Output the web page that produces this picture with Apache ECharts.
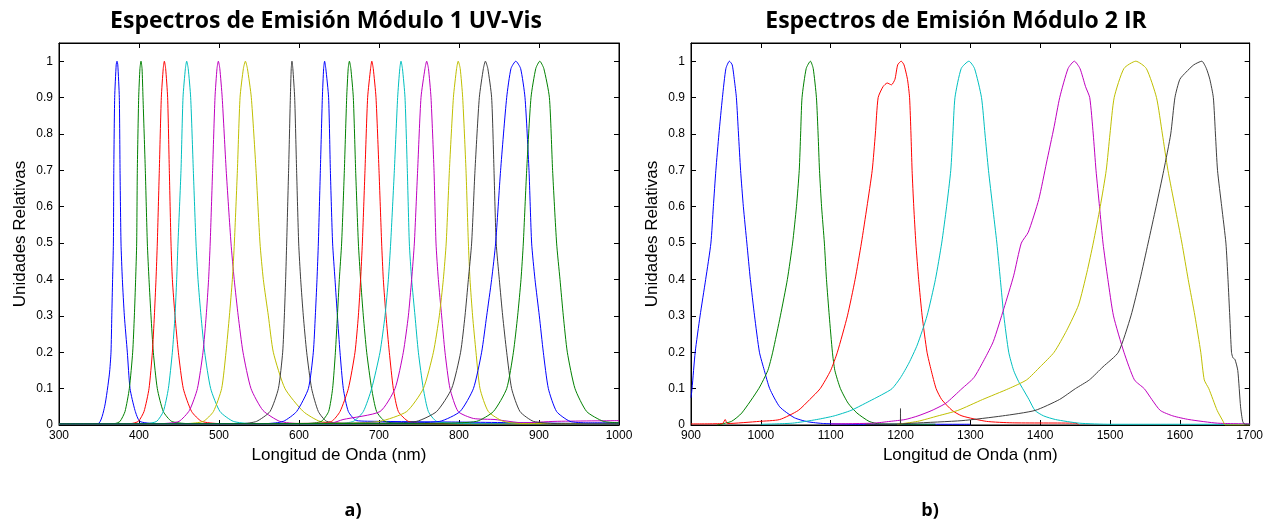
<!DOCTYPE html>
<html>
<head>
<meta charset="utf-8">
<script src="https://cdn.jsdelivr.net/npm/echarts@6/dist/echarts.min.js"></script>
<style>html,body{margin:0;padding:0;background:#fff;}#c{width:1266px;height:531px;}</style>
</head>
<body>
<div id="c"></div>
<script>
// ---------- DATA ----------
var titleLeft = 'Espectros de Emisión Módulo 1 UV-Vis';
var titleRight = 'Espectros de Emisión Módulo 2 IR';
var xNameText = 'Longitud de Onda (nm)';
var yNameText = 'Unidades Relativas';
var panelLabels = ['a)', 'b)'];
var colorCycle = ['#0000FF', '#008000', '#FF0000', '#00BFBF', '#BF00BF', '#BFBF00', '#3F3F3F'];

// Módulo 1 UV-Vis spectra: [wavelength nm, relative units]
var uv1 = [[300,0.002],[349,0.004],[357,0.05],[363,0.14],[365,0.2],[366,0.3],[367,0.4],[368,0.5],[368.5,0.7],[369.6,0.9],[371.5,0.99],[372.5,1],[373.5,0.99],[375.4,0.9],[376.3,0.7],[377.5,0.5],[379.2,0.4],[381.7,0.3],[385.4,0.2],[388.8,0.1],[395,0.04],[401,0.01],[420,0.004],[1000,0.002]];
var uv2 = [[300,0.002],[370,0.004],[376.3,0.01],[382.5,0.037],[387.9,0.1],[392.1,0.2],[394.2,0.3],[395.8,0.4],[397.1,0.5],[397.9,0.7],[399.6,0.9],[401.2,0.98],[402.5,1],[403.8,0.98],[405,0.9],[407.9,0.7],[410.4,0.5],[412.5,0.4],[415,0.3],[417.9,0.2],[422.9,0.1],[430.4,0.037],[440.8,0.01],[460,0.004],[1000,0.003]];
var uv3 = [[300,0.003],[390,0.004],[399.2,0.01],[406.25,0.037],[412.5,0.1],[416.7,0.2],[419.2,0.3],[421.25,0.4],[422.9,0.5],[425.4,0.7],[427.9,0.9],[430.3,0.98],[431.7,1],[433.3,0.98],[435.8,0.9],[437.9,0.7],[440,0.5],[441.7,0.4],[445,0.3],[449.2,0.2],[455.4,0.1],[465.8,0.037],[478.3,0.01],[500,0.004],[1000,0.003]];
var uv4 = [[300,0.003],[410,0.004],[422.1,0.01],[430.4,0.037],[436.7,0.1],[441.7,0.2],[445,0.3],[447.1,0.4],[448.75,0.5],[452.5,0.7],[455,0.9],[458,0.98],[459.6,1],[461.5,0.98],[464.6,0.9],[467.9,0.7],[471.25,0.5],[473.75,0.4],[477.5,0.3],[482.1,0.2],[489.6,0.1],[501.25,0.037],[517.9,0.01],[540,0.004],[1000,0.003]];
var uv5 = [[300,0.003],[430,0.004],[450,0.01],[463,0.04],[473,0.1],[480,0.2],[484,0.3],[487,0.4],[489,0.5],[492,0.7],[495,0.9],[497.5,0.98],[499.2,1],[501,0.98],[504,0.9],[509,0.7],[515,0.5],[519,0.4],[524,0.3],[530,0.2],[540,0.1],[555,0.04],[576,0.01],[600,0.004],[1000,0.004]];
var uv6 = [[300,0.003],[460,0.004],[480.4,0.01],[493,0.037],[503.3,0.1],[508.75,0.2],[513,0.3],[516.7,0.4],[519.2,0.5],[523,0.7],[526.3,0.9],[530.5,0.98],[533,1],[535.5,0.98],[540.4,0.9],[546.3,0.7],[551.25,0.5],[555.4,0.4],[561.7,0.3],[567.9,0.2],[582.5,0.1],[605.4,0.037],[626.25,0.01],[660,0.004],[1000,0.003]];
var uv7 = [[300,0.003],[530,0.004],[547,0.01],[563.75,0.037],[574.2,0.1],[579.6,0.2],[581.7,0.3],[583.3,0.4],[584.6,0.5],[587,0.7],[589.2,0.9],[590.3,0.98],[591.2,1],[592.3,0.98],[594.6,0.9],[597,0.7],[599.6,0.5],[602.1,0.4],[605.4,0.3],[609.6,0.2],[615.8,0.1],[624.2,0.037],[634.6,0.01],[660,0.004],[1000,0.003]];
var uv8 = [[300,0.003],[560,0.004],[580.4,0.01],[597,0.037],[611.7,0.1],[617.9,0.2],[620.4,0.3],[622.5,0.4],[624.2,0.5],[626.7,0.7],[629.2,0.9],[630.8,0.98],[632,1],[633.5,0.98],[637,0.9],[639.2,0.7],[642,0.5],[645,0.4],[648,0.3],[651.25,0.2],[655.4,0.1],[661.7,0.037],[672,0.012],[700,0.01],[800,0.008],[1000,0.003]];
var uv9 = [[300,0.003],[610,0.004],[628,0.01],[637,0.037],[642,0.1],[645.5,0.2],[648,0.3],[650.4,0.4],[653.3,0.5],[656.7,0.7],[659.6,0.9],[661.5,0.98],[663,1],[664.8,0.98],[667.9,0.9],[670.8,0.7],[674.2,0.5],[677,0.4],[680.4,0.3],[684.6,0.2],[690.8,0.1],[697,0.037],[707.5,0.01],[730,0.004],[1000,0.003]];
var uv10 = [[300,0.003],[620,0.004],[640.8,0.01],[651.25,0.037],[661.7,0.1],[670,0.2],[674.2,0.3],[677,0.4],[679.2,0.5],[682.5,0.7],[685.8,0.9],[689.5,0.98],[691,1],[692.8,0.98],[696.25,0.9],[700,0.7],[703.3,0.5],[705.4,0.4],[708.75,0.3],[712.9,0.2],[717.9,0.1],[724.2,0.037],[736.7,0.01],[760,0.004],[1000,0.003]];
var uv11 = [[300,0.003],[650,0.004],[668,0.01],[680.4,0.037],[690.8,0.1],[701.25,0.2],[707.5,0.3],[711.7,0.4],[714.6,0.5],[719.2,0.7],[723.3,0.9],[726,0.98],[727.5,1],[729.3,0.98],[732.5,0.9],[735.4,0.7],[737.9,0.5],[740.8,0.4],[745,0.3],[749.2,0.2],[755.4,0.1],[761.7,0.037],[772,0.01],[800,0.004],[1000,0.003]];
var uv12 = [[300,0.003],[640,0.005],[655,0.015],[701.25,0.037],[720,0.1],[730.4,0.2],[736.7,0.3],[740.8,0.4],[744.2,0.5],[748.3,0.7],[752.5,0.9],[757.5,0.98],[759.6,1],[761.8,0.98],[765,0.9],[768.75,0.7],[771.25,0.5],[774.2,0.4],[778.3,0.3],[782.5,0.2],[788.75,0.1],[799,0.037],[818,0.018],[845,0.015],[880,0.006],[920,0.01],[1000,0.012]];
var uv13 = [[300,0.003],[650,0.005],[701,0.01],[734.6,0.037],[755.4,0.1],[768,0.2],[775.4,0.3],[780.4,0.4],[784,0.5],[788,0.7],[793,0.9],[797,0.98],[799,1],[801.5,0.98],[804.6,0.9],[808.75,0.7],[811.7,0.5],[813.75,0.4],[817,0.3],[821.25,0.2],[826.25,0.1],[836.7,0.037],[855.4,0.01],[880,0.004],[1000,0.005]];
var uv14 = [[300,0.003],[700,0.005],[747,0.01],[772,0.037],[790.8,0.1],[802,0.2],[807.5,0.3],[811.7,0.4],[815.8,0.5],[820,0.7],[825.4,0.9],[830.5,0.98],[833,1],[836,0.98],[840.8,0.9],[843.75,0.7],[846.5,0.5],[850.4,0.4],[854.6,0.3],[859.6,0.2],[865.8,0.1],[876.25,0.037],[893,0.01],[920,0.004],[1000,0.003]];
var uv15 = [[300,0.003],[720,0.005],[776,0.01],[801.25,0.037],[818,0.1],[828.3,0.2],[834.6,0.3],[840.8,0.4],[845.8,0.5],[852,0.7],[859.6,0.9],[865,0.98],[871,1],[877,0.98],[882.5,0.9],[887.5,0.7],[890.8,0.5],[895,0.4],[900.4,0.3],[905.4,0.2],[911.7,0.1],[922,0.037],[938.75,0.01],[960,0.006],[1000,0.006]];
var uv16 = [[300,0.003],[780,0.005],[822,0.01],[843,0.037],[859.6,0.1],[868,0.2],[873.3,0.3],[877.5,0.4],[880.4,0.5],[884.6,0.7],[890,0.9],[896,0.98],[901,1],[906,0.98],[913,0.9],[917,0.7],[922,0.5],[926.25,0.4],[930.4,0.3],[935.4,0.2],[945,0.1],[959.6,0.037],[980.4,0.01],[1000,0.006]];
var uvSeries = [uv1, uv2, uv3, uv4, uv5, uv6, uv7, uv8, uv9, uv10, uv11, uv12, uv13, uv14, uv15, uv16];

// Módulo 2 IR spectra
var ir1 = [[900,0.075],[901.5,0.1],[906,0.2],[913,0.3],[921,0.4],[928.5,0.5],[932,0.6],[935.6,0.7],[940,0.8],[945,0.9],[950,0.98],[955,1],[959,0.99],[962,0.95],[965,0.9],[968,0.8],[971,0.7],[975,0.6],[980,0.5],[985,0.4],[991,0.3],[998,0.2],[1005,0.15],[1012.7,0.1],[1027,0.05],[1048,0.02],[1067,0.009],[1090,0.004],[1140,0.002],[1300,0.002]];
var ir2 = [[937,0.0],[958,0.01],[972.7,0.033],[997,0.1],[1010,0.15],[1017,0.2],[1028,0.3],[1038,0.4],[1045.5,0.5],[1051,0.6],[1055,0.7],[1057,0.8],[1059,0.9],[1065,0.98],[1071,1],[1075,0.98],[1079.6,0.9],[1082,0.8],[1084,0.7],[1087,0.6],[1091,0.5],[1094,0.4],[1098,0.3],[1102.5,0.2],[1106,0.15],[1114,0.1],[1125,0.06],[1137.6,0.033],[1155,0.01],[1170,0.003],[1250,0.002]];
var ir3 = [[900,0.003],[945,0.004],[949,0.015],[952,0.004],[998,0.01],[1027,0.015],[1053.6,0.04],[1070,0.07],[1085,0.1],[1100,0.15],[1109.6,0.2],[1124,0.3],[1135,0.4],[1144,0.5],[1152,0.6],[1159.5,0.7],[1164,0.8],[1168,0.9],[1175,0.93],[1181,0.94],[1187,0.935],[1192,0.95],[1196,0.99],[1201,1],[1205,0.99],[1210,0.95],[1213,0.9],[1215,0.8],[1216.6,0.7],[1219,0.6],[1222,0.5],[1226,0.4],[1231,0.3],[1238,0.2],[1244,0.15],[1251,0.1],[1259,0.07],[1274,0.04],[1288,0.025],[1323,0.01],[1360,0.006],[1450,0.005],[1455,0.002]];
var ir4 = [[1000,0.002],[1045,0.005],[1080,0.015],[1105,0.025],[1129,0.04],[1150,0.06],[1175,0.085],[1188,0.1],[1200,0.13],[1212,0.17],[1224,0.22],[1238,0.3],[1250,0.4],[1259,0.5],[1266,0.6],[1272,0.7],[1275,0.8],[1278,0.9],[1287,0.98],[1298,1],[1306,0.98],[1316,0.9],[1321,0.8],[1326,0.7],[1332,0.6],[1338,0.5],[1343,0.4],[1348,0.3],[1355,0.2],[1362,0.15],[1369,0.12],[1375,0.1],[1384,0.07],[1392.6,0.04],[1405,0.025],[1422,0.015],[1456,0.005],[1500,0.002],[1700,0.002]];
var ir5 = [[1100,0.003],[1161,0.005],[1185,0.01],[1206.6,0.015],[1225,0.025],[1245,0.04],[1265,0.06],[1288,0.1],[1305,0.13],[1320,0.18],[1333,0.23],[1348,0.32],[1362,0.41],[1373,0.5],[1383,0.53],[1398,0.62],[1409,0.72],[1420,0.82],[1428,0.9],[1440,0.98],[1449,1],[1457,0.98],[1465,0.93],[1471,0.9],[1476,0.8],[1480,0.7],[1485,0.6],[1490,0.5],[1497,0.4],[1505,0.3],[1520,0.2],[1535,0.124],[1549,0.1],[1560,0.07],[1572,0.04],[1590,0.025],[1613,0.015],[1654,0.005],[1700,0.003]];
var ir6 = [[1195,0.002],[1224.6,0.01],[1253.6,0.025],[1282,0.04],[1317.5,0.07],[1355,0.1],[1380.6,0.124],[1400,0.16],[1420,0.2],[1438,0.26],[1455,0.33],[1467,0.42],[1476,0.5],[1486,0.6],[1494.6,0.7],[1500,0.8],[1506,0.9],[1520,0.98],[1537,1],[1552,0.98],[1566.6,0.9],[1575,0.8],[1583,0.7],[1593,0.6],[1603,0.5],[1612,0.4],[1621.6,0.3],[1630,0.2],[1635,0.124],[1641.5,0.1],[1653.5,0.04],[1662,0.01],[1665,0.0],[1700,0.0]];
var ir7 = [[1150,0.002],[1199.8,0.003],[1200,0.045],[1200.2,0.003],[1218,0.005],[1288,0.012],[1346,0.025],[1392.6,0.04],[1427.6,0.07],[1450.5,0.1],[1470.5,0.124],[1490,0.16],[1512,0.2],[1530,0.3],[1543,0.4],[1554.6,0.5],[1566,0.6],[1577,0.7],[1587,0.8],[1593,0.9],[1600,0.95],[1609,0.97],[1620,0.99],[1631.5,1],[1638,0.98],[1643,0.95],[1648,0.9],[1651,0.8],[1654,0.7],[1660,0.6],[1666,0.5],[1669,0.4],[1671.5,0.3],[1674,0.2],[1676,0.185],[1679,0.18],[1683,0.15],[1687,0.05],[1690,0.01],[1693,0.002],[1700,0.002]];
var irSeries = [ir1, ir2, ir3, ir4, ir5, ir6, ir7];

var xTicksLeft = {min: 300, max: 1000, interval: 100};
var xTicksRight = {min: 900, max: 1700, interval: 100};
var yTicks = {min: 0, max: 1.05, interval: 0.1};

// ---------- CHART ----------
var chart = echarts.init(document.getElementById('c'), null, {renderer: 'canvas'});
var labelFont = {fontFamily: 'Liberation Sans', fontSize: 12, color: '#000'};
var grids = [
  {left: 59, top: 43, width: 560, height: 382, show: true, borderColor: '#000', borderWidth: 1},
  {left: 691, top: 43, width: 561, height: 382, show: true, borderColor: '#000', borderWidth: 1}
];
function xAx(grid, t, pos, main) {
  return {
    type: 'value', gridIndex: grid, position: pos, min: t.min, max: t.max, interval: t.interval,
    axisLine: {show: true, onZero: false, lineStyle: {color: '#000', width: 1}},
    axisTick: {show: true, inside: true, length: 5, lineStyle: {color: '#000'}},
    axisLabel: main ? Object.assign({show: true, margin: 5, formatter: function (v) { return String(v); }}, labelFont) : {show: false},
    splitLine: {show: false},
    name: main ? xNameText : '', nameLocation: 'middle', nameGap: 20,
    nameTextStyle: {fontFamily: 'Liberation Sans', fontSize: 17, color: '#000'}
  };
}
function yAx(grid, pos, main) {
  return {
    type: 'value', gridIndex: grid, position: pos, min: yTicks.min, max: yTicks.max, interval: yTicks.interval,
    axisLine: {show: true, onZero: false, lineStyle: {color: '#000', width: 1}},
    axisTick: {show: true, inside: true, length: 5, lineStyle: {color: '#000'}},
    axisLabel: main ? Object.assign({show: true, margin: 6, showMaxLabel: false}, labelFont) : {show: false},
    splitLine: {show: false},
    name: main ? yNameText : '', nameLocation: 'middle', nameGap: 30,
    nameTextStyle: {fontFamily: 'Liberation Sans', fontSize: 17, color: '#000'}
  };
}
var series = [];
uvSeries.forEach(function (d, i) {
  series.push({type: 'line', xAxisIndex: 0, yAxisIndex: 0, data: d, showSymbol: false, smooth: 0.2,
    lineStyle: {width: 1, color: colorCycle[i % 7]}, silent: true, animation: false});
});
irSeries.forEach(function (d, i) {
  series.push({type: 'line', xAxisIndex: 2, yAxisIndex: 2, data: d, showSymbol: false, smooth: 0.2,
    lineStyle: {width: 1, color: colorCycle[i % 7]}, silent: true, animation: false});
});
var titleStyle = {fontFamily: 'Open Sans', fontWeight: 'bold', fontSize: 23, color: '#000'};
chart.setOption({
  animation: false,
  backgroundColor: '#fff',
  title: [
    {text: titleLeft, left: 321, top: 5, textAlign: 'center', textStyle: titleStyle},
    {text: titleRight, left: 951, top: 5, textAlign: 'center', textStyle: titleStyle},
    {text: panelLabels[0], left: 348, top: 497, textAlign: 'center', textStyle: {fontFamily: 'Open Sans', fontWeight: 'bold', fontSize: 18, color: '#000'}},
    {text: panelLabels[1], left: 925, top: 497, textAlign: 'center', textStyle: {fontFamily: 'Open Sans', fontWeight: 'bold', fontSize: 18, color: '#000'}}
  ],
  grid: grids,
  xAxis: [xAx(0, xTicksLeft, 'bottom', true), xAx(0, xTicksLeft, 'top', false), xAx(1, xTicksRight, 'bottom', true), xAx(1, xTicksRight, 'top', false)],
  yAxis: [yAx(0, 'left', true), yAx(0, 'right', false), yAx(1, 'left', true), yAx(1, 'right', false)],
  series: series
});
</script>
</body>
</html>
